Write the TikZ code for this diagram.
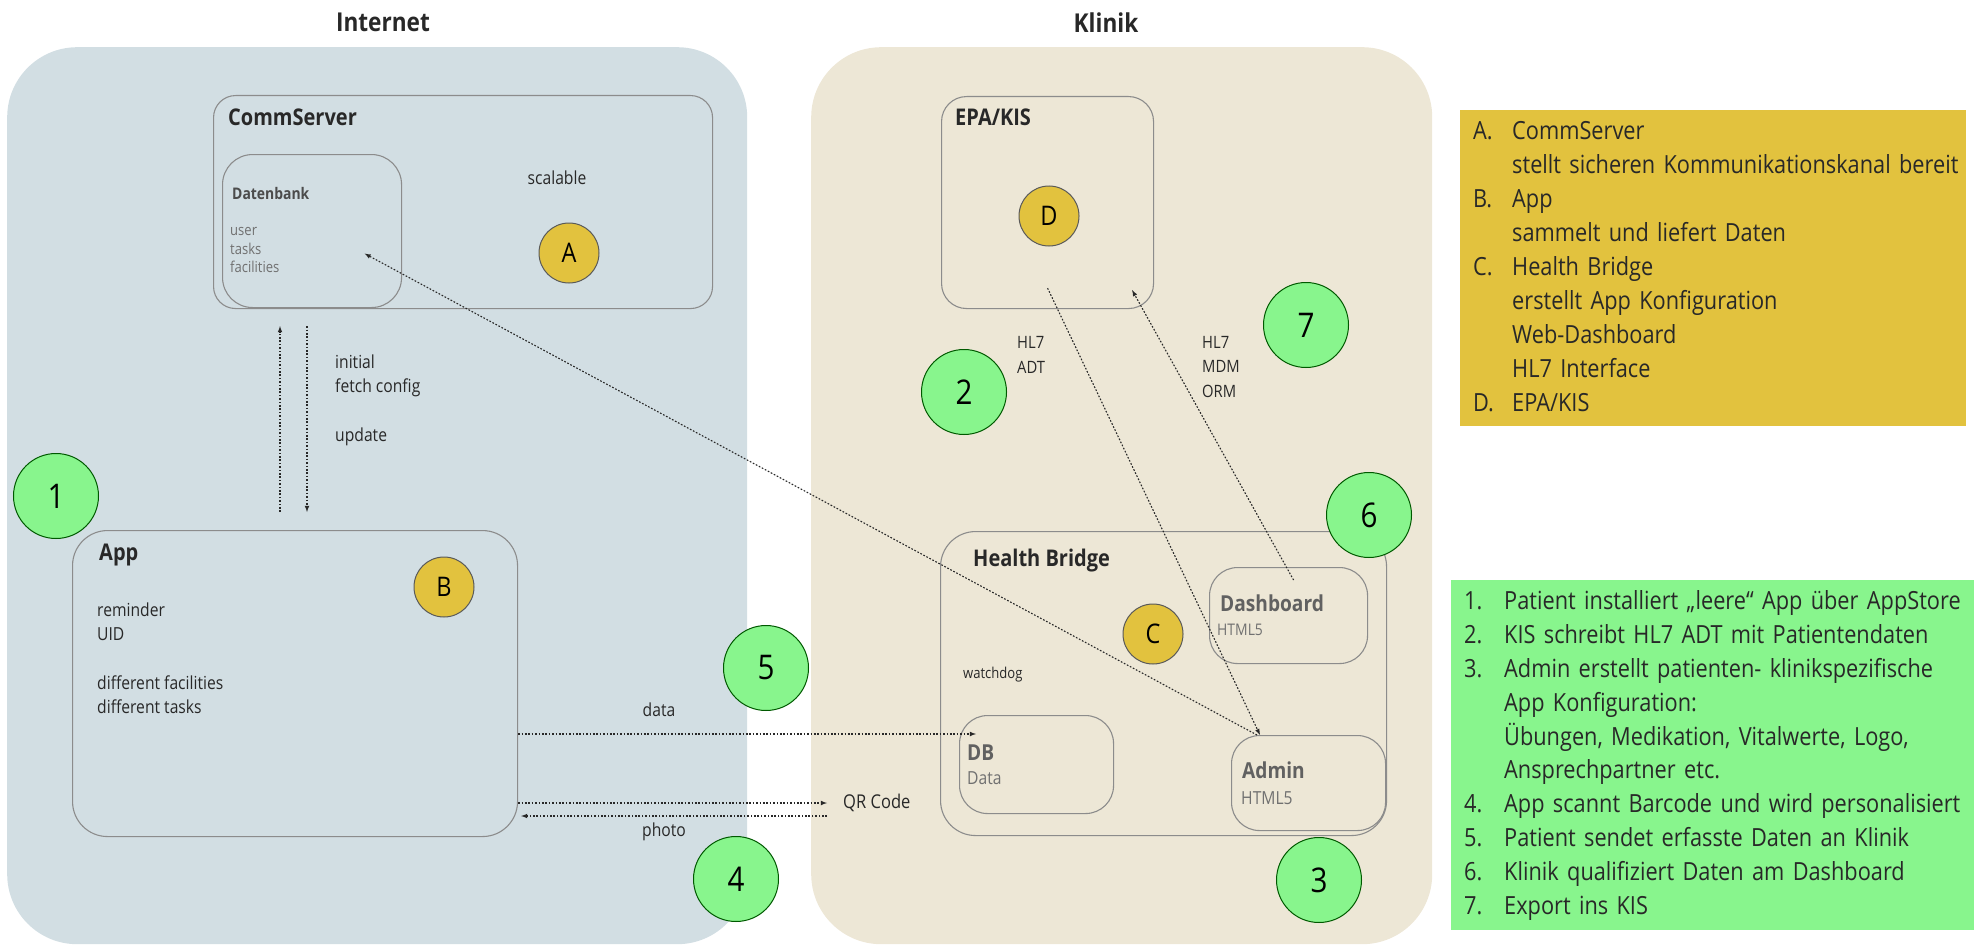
\documentclass[tikz,border=0pt]{standalone}
\usepackage{fontspec}
\setmainfont{Open Sans}[FakeStretch=0.87]
\usepackage{tikz}
\usetikzlibrary{shapes,arrows,positioning}
\definecolor{netbg}{RGB}{210,222,227}
\definecolor{klinbg}{RGB}{237,231,214}
\definecolor{gold}{RGB}{226,194,62}
\definecolor{mint}{RGB}{136,245,141}
\definecolor{frame}{RGB}{140,140,140}
\definecolor{ink}{RGB}{40,40,40}
\definecolor{soft}{RGB}{112,112,112}

\begin{document}
\begin{tikzpicture}[
		x=1pt,
		y=-1pt,
		zone/.style={
		  draw=none,
		  rounded corners=70pt,
		  anchor=north west,
		  inner sep=0pt
		  },
		box/.style={
		  draw=frame,
		  line width=1.1pt,
		  rounded corners=28pt,
		  anchor=north west,
		  inner sep=0pt
		  },
		zonetitle/.style={
		  font=\fontsize{26}{30}\selectfont\bfseries,
		  text=ink
		  },
		head/.style={
		  anchor=west,
		  inner sep=0pt,
		  font=\fontsize{23}{28}\selectfont\bfseries,
		  text=ink
		  },
		sub/.style={
		  anchor=west,
		  inner sep=0pt,
		  font=\fontsize{22}{26}\selectfont\bfseries,
		  text=black!62
		  },
		note/.style={
		  anchor=west,
		  inner sep=0pt,
		  align=left,
		  font=\fontsize{18}{24.3}\selectfont,
		  text=ink
		  },
		small/.style={
		  anchor=west,
		  inner sep=0pt,
		  align=left,
		  font=\fontsize{16}{19}\selectfont,
		  text=soft
		  },
		stepno/.style={
		  circle,
		  draw=green!35!black,
		  line width=1pt,
		  fill=mint,
		  minimum size=85pt,
		  inner sep=0pt,
		  font=\fontsize{34}{40}\selectfont
		  },
		partno/.style={
		  circle,
		  draw=black!65,
		  line width=1pt,
		  fill=gold,
		  minimum size=60pt,
		  inner sep=0pt,
		  font=\fontsize{27}{32}\selectfont
		  },
		flow/.style={
		  draw=ink,
		  line width=1.1pt,
		  dash pattern=on 1.7pt off 1.7pt
		  },
		listbox/.style={
		  anchor=north west,
		  inner xsep=13pt,
		  inner ysep=5pt,
		  text=ink,
		  font=\fontsize{25}{34}\selectfont
		  },
		>=latex
		]
		\useasboundingbox (0,0) rectangle (1975,947);
		% the two zones
		\node[zone, fill=netbg, minimum width=740pt, minimum height=897pt] (inet) at (7,47) {};
		\node[zone, fill=klinbg, minimum width=621pt, minimum height=897pt] (klin) at (811,47) {};
		\node[zonetitle] (inettitle) at (383,22) {Internet};
		\node[zonetitle] (klintitle) at (1106,23) {Klinik};
		% boxes
		\node[box, rounded corners=22pt, minimum width=499pt, minimum height=213pt] (cs) at (213,95) {};
		\node[box, rounded corners=30pt, minimum width=179pt, minimum height=153pt] (dbk) at (222,154) {};
		\node[box, rounded corners=35pt, minimum width=445pt, minimum height=306pt] (app) at (72,530) {};
		\node[box, rounded corners=25pt, minimum width=212pt, minimum height=212pt] (epa) at (941,96) {};
		\node[box, rounded corners=35pt, minimum width=446pt, minimum height=304pt] (hb) at (940,531) {};
		\node[box, minimum width=158pt, minimum height=96pt] (dash) at (1209,567) {};
		\node[box, minimum width=154pt, minimum height=98pt] (db) at (959,715) {};
		\node[box, minimum width=154pt, minimum height=95pt] (adm) at (1231,735) {};
		% texts
		\node[head] (cshead) at (228,117) {CommServer};
		\node[head, font=\fontsize{16}{19}\selectfont\bfseries, text=black!70] (dbkhead) at (232,193) {Datenbank};
		\node[small, font=\fontsize{15}{18.5}\selectfont] (dbktext) at (230,250) {user\\tasks\\facilities};
		\node[note, anchor=center] (scal) at (557,178) {scalable};
		\node[note] (cfgtext) at (335,400) {initial\\fetch config\\[24.3pt]update};
		\node[head] (apphead) at (99,555) {App};
		\node[note] (apptext) at (97,658) {reminder\\UID\\[24.3pt]different facilities\\different tasks};
		\node[note, anchor=center] (datatext) at (659,710) {data};
		\node[note, anchor=center] (phototext) at (664,832) {photo};
		\node[note, font=\fontsize{19}{24}\selectfont] (qr) at (843,803) {QR Code};
		\node[head] (epahead) at (955,117) {EPA/KIS};
		\node[note, font=\fontsize{17}{24.5}\selectfont] (adt) at (1017,355) {HL7\\ADT};
		\node[note, font=\fontsize{17}{24.5}\selectfont] (mdm) at (1202,367) {HL7\\MDM\\ORM};
		\node[head] (hbhead) at (973,561) {Health Bridge};
		\node[sub] (dashhead) at (1220,603) {Dashboard};
		\node[small] (dashsub) at (1217,630) {HTML5};
		\node[note, font=\fontsize{15}{18}\selectfont] (wd) at (963,675) {watchdog};
		\node[sub] (dbhead) at (967,753) {DB};
		\node[small, font=\fontsize{18}{22}\selectfont] (dbsub) at (967,778) {Data};
		\node[sub] (admhead) at (1242,770) {Admin};
		\node[small, font=\fontsize{18}{22}\selectfont] (admsub) at (1241,798) {HTML5};
		% numbered circles
		\foreach \n/\cx/\cy in {1/56/496, 2/964/392, 3/1319/880, 4/736/879, 5/766/668, 6/1369/515, 7/1306/325}
		  \node[stepno] (step\n) at (\cx,\cy) {\n};
		\foreach \n/\cx/\cy in {A/569/253, B/444/587, C/1153/634, D/1049/216}
		  \node[partno] (part\n) at (\cx,\cy) {\n};
		% connectors
		\coordinate (cfgup) at (280,0);
		\coordinate (cfgdown) at (307,0);
		\draw[flow,->,shorten <=18pt,shorten >=17pt] (cfgup |- app.north) -- (cfgup |- cs.south);
		\draw[flow,->,shorten <=17pt,shorten >=18pt] (cfgdown |- cs.south) -- (cfgdown |- app.north);
		\coordinate (dat) at ([xshift=17pt,yshift=-19pt]db.north west);
		\draw[flow,->] (app.east |- dat) -- (dat);
		\draw[flow,->] (app.east |- qr.west) -- ([xshift=-16pt]qr.west);
		\coordinate (ph) at ([xshift=-16pt,yshift=-13pt]qr.west);
		\draw[flow,->,shorten >=3pt] (ph) -- (ph -| app.east);
		\draw[flow,->] ([xshift=26pt]adm.north west) -- ([xshift=52.5pt,yshift=-22.5pt]dbk.center);
		\draw[flow,->] ([yshift=21pt]epa.south) -- ([xshift=29pt]adm.north west);
		\draw[flow,->] ([xshift=5pt,yshift=-13pt]dash.north) -- ([xshift=-22pt,yshift=19pt]epa.south east);
		% lists
		\node[listbox, fill=gold, minimum width=506pt, minimum height=315pt, text width=480pt] (partlist) at (1460,110) {\noindent\begin{tabular}{@{}p{39pt}@{}l@{}}
		A. & CommServer\\
		 & stellt sicheren Kommunikationskanal bereit\\
		B. & App\\
		 & sammelt und liefert Daten\\
		C. & Health Bridge\\
		 & erstellt App Konfiguration\\
		 & Web-Dashboard\\
		 & HL7 Interface\\
		D. & EPA/KIS
		\end{tabular}};
		\node[listbox, fill=mint, minimum width=523pt, minimum height=350pt, text width=497pt, font=\fontsize{25}{33.9}\selectfont] (steplist) at (1451,580) {\noindent\begin{tabular}{@{}p{40pt}@{}l@{}}
		1. & Patient installiert „leere“ App über AppStore\\
		2. & KIS schreibt HL7 ADT mit Patientendaten\\
		3. & Admin erstellt patienten- klinikspezifische\\
		 & App Konfiguration:\\
		 & Übungen, Medikation, Vitalwerte, Logo,\\
		 & Ansprechpartner etc.\\
		4. & App scannt Barcode und wird personalisiert\\
		5. & Patient sendet erfasste Daten an Klinik\\
		6. & Klinik qualifiziert Daten am Dashboard\\
		7. & Export ins KIS
		\end{tabular}};
	\end{tikzpicture}
\end{document}
